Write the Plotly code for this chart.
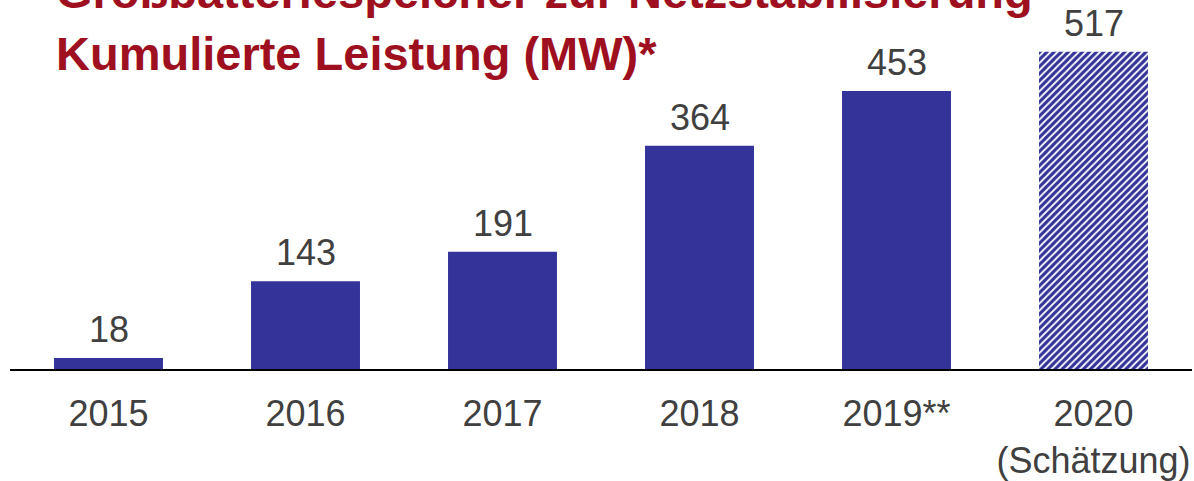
import plotly.graph_objects as go

categories = ["2015", "2016", "2017", "2018", "2019**", "2020"]
tick_labels = ["2015", "2016", "2017", "2018", "2019**", "2020<br>(Schätzung)"]
values = [18, 143, 191, 364, 453, 517]
estimate = [False, False, False, False, False, True]
title_line1 = "Großbatteriespeicher zur Netzstabilisierung"
title_line2 = "Kumulierte Leistung (MW)*"

BLUE = "#333399"
GRAY = "#404040"
RED = "#9E1020"
FONT = "Liberation Sans, Arial, sans-serif"

solid_x = [c for c, e in zip(categories, estimate) if not e]
solid_y = [v for v, e in zip(values, estimate) if not e]
est_x = [c for c, e in zip(categories, estimate) if e]
est_y = [v for v, e in zip(values, estimate) if e]

fig = go.Figure()
fig.add_trace(go.Bar(
    x=solid_x, y=solid_y, width=0.553,
    marker=dict(color=BLUE, line=dict(width=0)),
    hoverinfo="skip",
))
fig.add_trace(go.Bar(
    x=est_x, y=est_y, width=0.553,
    marker=dict(
        color="white", line=dict(width=0),
        pattern=dict(shape="/", fgcolor=BLUE, bgcolor="white",
                     size=5, solidity=0.65, fillmode="replace"),
    ),
    hoverinfo="skip",
))

annotations = []
for i, v in enumerate(values):
    annotations.append(dict(
        x=i, y=v, xref="x", yref="y", text=str(v), showarrow=False,
        yanchor="bottom", yshift=7, borderpad=0,
        font=dict(family=FONT, size=36, color=GRAY),
    ))

annotations.append(dict(
    xref="paper", yref="paper", x=(55 - 10) / 1182, y=1 + 9 / 372,
    xanchor="left", yanchor="middle", text="<b>" + title_line1 + "</b>",
    showarrow=False, borderpad=0, font=dict(family=FONT, size=47, color=RED),
))
annotations.append(dict(
    xref="paper", yref="paper", x=(55 - 10) / 1182, y=1 - 54 / 372,
    xanchor="left", yanchor="middle", text="<b>" + title_line2 + "</b>",
    showarrow=False, borderpad=0, font=dict(family=FONT, size=47, color=RED),
))

fig.update_layout(
    width=1194,
    height=481,
    margin=dict(l=10, r=2, t=0, b=109),
    paper_bgcolor="white",
    plot_bgcolor="white",
    showlegend=False,
    barmode="overlay",
    annotations=annotations,
    xaxis=dict(
        type="category",
        categoryorder="array", categoryarray=categories,
        tickmode="array", tickvals=categories, ticktext=tick_labels,
        showline=True, linecolor="black", linewidth=2,
        showgrid=False, zeroline=False,
        ticks="", ticklabelstandoff=12,
        tickfont=dict(family=FONT, size=36, color=GRAY),
        range=[-0.5, 5.5],
    ),
    yaxis=dict(
        visible=False, range=[0, 601.5], showgrid=False, zeroline=False,
    ),
)

fig.write_html("out.html", config={"displayModeBar": False},
               post_script="document.body.style.margin='0px';")
